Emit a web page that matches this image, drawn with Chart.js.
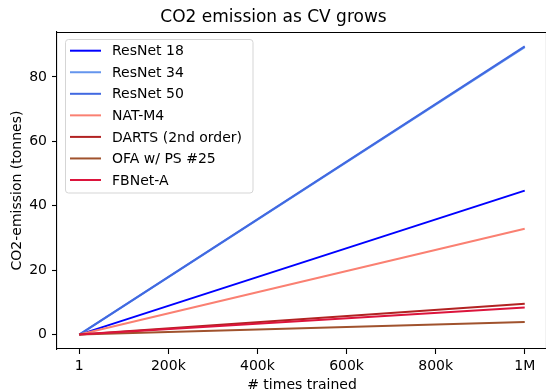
<!DOCTYPE html>
<html>
<head>
<meta charset="utf-8">
<script src="https://cdn.jsdelivr.net/npm/chart.js@4.4.1/dist/chart.umd.min.js"></script>
<style>
  html, body { margin: 0; padding: 0; background: #fff; overflow: hidden; }
  #wrap { width: 546px; height: 392px; overflow: hidden; }
</style>
</head>
<body>
<div id="wrap"><canvas id="myChart" width="548" height="392"></canvas></div>
<script>
const models = ['ResNet 18', 'ResNet 34', 'ResNet 50', 'NAT-M4', 'DARTS (2nd order)', 'OFA w/ PS #25', 'FBNet-A'];
const colors = ['#0000ff', '#6495ed', '#4169e1', '#fa8072', '#b22222', '#a0522d', '#dc143c'];
const timesTrained = [1, 1000000];
// emission (tonnes) at 1 and at 1M trainings
const emissionAt1 = [0, 0, 0, 0, 0, 0, 0];
const emissionAt1M = [44.7, 89.3, 89.5, 32.9, 9.6, 3.9, 8.4];
const xTicks = [1, 200000, 400000, 600000, 800000, 1000000];
const xTickLabels = ['1', '200k', '400k', '600k', '800k', '1M'];
const yTicks = [0, 20, 40, 60, 80];
const yTickLabels = ['0', '20', '40', '60', '80'];

const FONT = 'DejaVu Sans';
const n = models.length;

const datasets = models.map((m, i) => ({
    label: m,
    data: [
        {x: timesTrained[0], y: emissionAt1[i]},
        {x: timesTrained[1], y: emissionAt1M[i]}
    ],
    borderColor: colors[i],
    backgroundColor: colors[i],
    borderWidth: 2,
    pointRadius: 0,
    tension: 0,
    order: n - i
}));

// matplotlib style 5% margins
const xRange = timesTrained[1] - timesTrained[0];
const yMax = Math.max(...emissionAt1M);
const yMin = 0;

const frameLegend = {
    id: 'frameLegend',
    afterDatasetsDraw(chart) {
        const ctx = chart.ctx;
        const a = chart.chartArea;
        ctx.save();
        // top spine
        ctx.strokeStyle = '#000';
        ctx.lineWidth = 1.1;
        ctx.beginPath();
        ctx.moveTo(a.left, a.top + 0.5);
        ctx.lineTo(a.right, a.top + 0.5);
        ctx.stroke();
        ctx.beginPath();
        ctx.moveTo(a.right - 0.5, a.top);
        ctx.lineTo(a.right - 0.5, a.bottom);
        ctx.stroke();

        // legend box
        const bx = 65.5, by = 39.5, bw = 187.5, bh = 153.5, r = 3;
        ctx.beginPath();
        ctx.roundRect(bx, by, bw, bh, r);
        ctx.fillStyle = 'rgba(255,255,255,0.8)';
        ctx.fill();
        ctx.strokeStyle = '#d5d5d5';
        ctx.lineWidth = 1;
        ctx.stroke();

        ctx.font = '14px "' + FONT + '"';
        ctx.textBaseline = 'middle';
        ctx.textAlign = 'left';
        chart.data.datasets.forEach((ds, i) => {
            const y = 50.7 + i * 21.55;
            ctx.strokeStyle = ds.borderColor;
            ctx.lineWidth = 2;
            ctx.beginPath();
            ctx.moveTo(70, y);
            ctx.lineTo(101, y);
            ctx.stroke();
            ctx.fillStyle = '#000';
            ctx.fillText(ds.label, 112, y + 1);
        });
        ctx.restore();
    }
};

const table = document.getElementById('myChart').getContext('2d');
const myChart = new Chart(table, {
    type: 'line',
    data: { datasets: datasets },
    options: {
        responsive: false,
        animation: false,
        layout: { padding: { left: 0, right: 1, top: 0, bottom: 0 } },
        plugins: {
            legend: { display: false },
            tooltip: { enabled: false },
            title: {
                display: true,
                text: 'CO2 emission as CV grows',
                color: '#000',
                font: { family: FONT, size: 17, weight: 'normal' },
                padding: { top: 7, bottom: 4.6 }
            }
        },
        scales: {
            x: {
                type: 'linear',
                min: timesTrained[0] - 0.05 * xRange,
                max: timesTrained[1] + 0.05 * xRange,
                afterBuildTicks: (scale) => { scale.ticks = xTicks.map(v => ({value: v})); },
                afterFit: (scale) => { scale.height = 43; },
                ticks: {
                    color: '#000',
                    padding: 4,
                    maxRotation: 0,
                    font: { family: FONT, size: 14 },
                    callback: (v) => xTickLabels[xTicks.indexOf(v)]
                },
                grid: { drawOnChartArea: false, drawTicks: true, tickLength: 5, color: '#000', tickWidth: 1.1 },
                border: { display: true, color: '#000', width: 1.1 },
                title: {
                    display: true,
                    text: '# times trained',
                    color: '#000',
                    font: { family: FONT, size: 14, lineHeight: 1 },
                    padding: { top: 0, bottom: 0 }
                }
            },
            y: {
                min: yMin - 0.05 * (yMax - yMin),
                max: yMax + 0.05 * (yMax - yMin),
                afterBuildTicks: (scale) => { scale.ticks = yTicks.map(v => ({value: v})); },
                afterFit: (scale) => { scale.width = 57; },
                ticks: {
                    color: '#000',
                    padding: 5,
                    font: { family: FONT, size: 14 },
                    callback: (v) => yTickLabels[yTicks.indexOf(v)]
                },
                grid: { drawOnChartArea: false, drawTicks: true, tickLength: 5, color: '#000', tickWidth: 1.1 },
                border: { display: true, color: '#000', width: 1.1 },
                title: {
                    display: true,
                    text: 'CO2-emission (tonnes)',
                    color: '#000',
                    font: { family: FONT, size: 14 },
                    padding: { top: 9, bottom: 0 }
                }
            }
        }
    },
    plugins: [frameLegend]
});
</script>
</body>
</html>
